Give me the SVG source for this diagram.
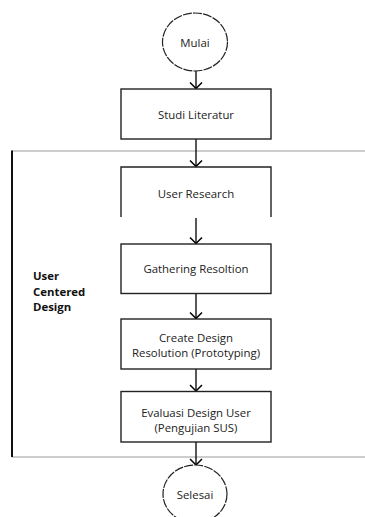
<svg xmlns="http://www.w3.org/2000/svg" width="365" height="517" viewBox="0 0 365 517">
<defs>
<marker id="arr" viewBox="-7 -7 9 14" markerWidth="9" markerHeight="14" markerUnits="userSpaceOnUse" refX="0" refY="0" orient="auto">
<path d="M-6,-6 L0,0 L-6,6" fill="none" stroke="#000" stroke-width="1.5"/>
</marker>
</defs>
<style>
.box{fill:#fff;stroke:#222;stroke-width:1.4}
.term{fill:#fff;stroke:#222;stroke-width:1.2;stroke-dasharray:9 1.2}
.t{font-family:"Open Sans","Liberation Sans",sans-serif;font-size:11.4px;fill:#222;text-anchor:middle;dominant-baseline:central}
.lbl{font-family:"Open Sans","Liberation Sans",sans-serif;font-size:11.4px;font-weight:bold;fill:#111}
.c{fill:none;stroke:#111;stroke-width:1.4;marker-end:url(#arr)}
</style>
<rect width="365" height="517" fill="#fff"/>
<g id="frame">
<line x1="12" y1="151" x2="365" y2="151" stroke="#bdbdbd" stroke-width="1.5"/>
<line x1="12" y1="457" x2="365" y2="457" stroke="#bdbdbd" stroke-width="1.5"/>
<line x1="12" y1="150.5" x2="12" y2="457" stroke="#111" stroke-width="2"/>
<text class="lbl" x="33" y="280">User</text>
<text class="lbl" x="33" y="295.6">Centered</text>
<text class="lbl" x="33" y="311.2">Design</text>
</g>
<g id="connectors">
<line class="c" x1="196" y1="68" x2="196" y2="88.5"/>
<line class="c" x1="196" y1="139" x2="196" y2="166.5"/>
<line class="c" x1="196" y1="218" x2="196" y2="243.5" stroke-width="2"/>
<line class="c" x1="196" y1="293" x2="196" y2="318.5"/>
<line class="c" x1="196" y1="369" x2="196" y2="391"/>
<line class="c" x1="196" y1="442" x2="196" y2="465"/>
</g>
<g id="mulai">
<ellipse class="term" cx="195" cy="42" rx="32.5" ry="29"/>
<text class="t" x="195" y="42">Mulai</text>
</g>
<g id="studi">
<rect class="box" x="121" y="89" width="150" height="50"/>
<text class="t" x="196" y="114">Studi Literatur</text>
</g>
<g id="user-research">
<path d="M121,217 L121,167 L271,167 L271,217" fill="#fff" stroke="#222" stroke-width="1.4"/>
<text class="t" x="196" y="193">User Research</text>
</g>
<g id="gathering">
<rect class="box" x="121" y="244" width="150" height="49.5"/>
<text class="t" x="196" y="268">Gathering Resoltion</text>
</g>
<g id="create">
<rect class="box" x="121" y="319" width="150" height="50"/>
<text class="t" x="196" y="337">Create Design</text>
<text class="t" x="196" y="352.6">Resolution (Prototyping)</text>
</g>
<g id="evaluasi">
<rect class="box" x="121" y="391.5" width="150" height="50.5"/>
<text class="t" x="196" y="412">Evaluasi Design User</text>
<text class="t" x="196" y="427.6">(Pengujian SUS)</text>
</g>
<g id="selesai">
<ellipse class="term" cx="195" cy="494" rx="32" ry="29"/>
<text class="t" x="195" y="494">Selesai</text>
</g>
</svg>
